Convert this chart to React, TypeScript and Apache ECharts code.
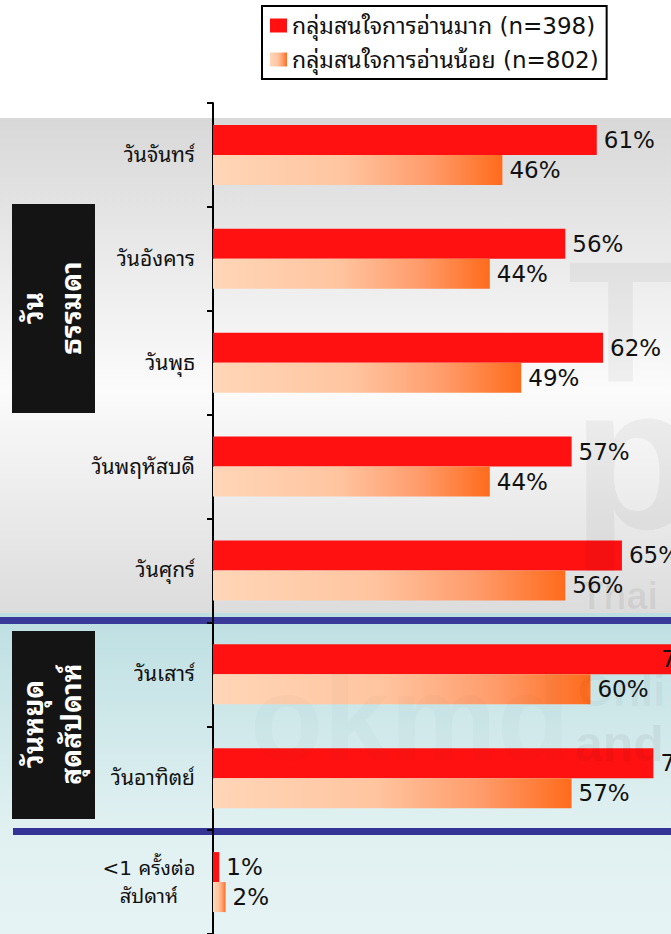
import React, { useEffect, useRef } from "react";
import * as echarts from "echarts";

const categories = [
  "วันจันทร์",
  "วันอังคาร",
  "วันพุธ",
  "วันพฤหัสบดี",
  "วันศุกร์",
  "วันเสาร์",
  "วันอาทิตย์",
  "<1 ครั้งต่อ\nสัปดาห์",
];
const highInterest = [61, 56, 62, 57, 65, 73, 70, 1];
const lowInterest = [46, 44, 49, 44, 56, 60, 57, 2];
const seriesNames = ["กลุ่มสนใจการอ่านมาก (n=398)", "กลุ่มสนใจการอ่านน้อย (n=802)"];
const groupLabels = ["วัน\nธรรมดา", "วันหยุด\nสุดสัปดาห์"];

const FONT = '"DejaVu Sans", "Noto Sans Thai Looped", Tahoma, "Noto Sans Thai", sans-serif';

export default function App() {
  const ref = useRef<HTMLDivElement>(null);

  useEffect(() => {
    document.body.style.margin = "0";
    const chart = echarts.init(ref.current!, null, { renderer: "svg" });

    const lowGradient = {
      type: "linear",
      x: 0,
      y: 0,
      x2: 1,
      y2: 0,
      colorStops: [
        { offset: 0, color: "#ffd6b8" },
        { offset: 0.45, color: "#ffc5a0" },
        { offset: 0.75, color: "#ff9b6a" },
        { offset: 1, color: "#ff6b1c" },
      ],
    };

    const highData = highInterest.map((v, i) =>
      i === 5 ? { value: v, label: { offset: [-18, 0] } } : v
    );

    const wm = (text: string, x: number, y: number, size: number, fill: string) => ({
      type: "text",
      x,
      y,
      z: 50,
      silent: true,
      style: {
        text,
        fill,
        font: `bold ${size}px Arial, "Liberation Sans", sans-serif`,
        textVerticalAlign: "top",
      },
    });

    const valueLabel = {
      show: true,
      position: "right",
      distance: 7,
      formatter: "{c}%",
      fontSize: 23,
      color: "#111",
      fontFamily: FONT,
    };

    const option: any = {
      animation: false,
      textStyle: { fontFamily: FONT },
      legend: {
        left: 262,
        top: 6,
        orient: "vertical",
        data: seriesNames,
        icon: "rect",
        itemWidth: 17,
        itemHeight: 14,
        itemGap: 9,
        padding: [7, 8, 7, 8],
        borderColor: "#000",
        borderWidth: 2,
        backgroundColor: "#fff",
        textStyle: { fontSize: 23, lineHeight: 25, color: "#111", fontFamily: FONT },
      },
      grid: { left: 213, top: 103, right: 0, height: 832, containLabel: false },
      xAxis: { type: "value", min: 0, max: 72.8, show: false },
      yAxis: {
        type: "category",
        inverse: true,
        data: categories,
        axisLine: { show: true, lineStyle: { color: "#000", width: 2 } },
        axisTick: { show: true, length: 6, lineStyle: { color: "#000", width: 2 } },
        axisLabel: {
          margin: 18,
          fontSize: 21,
          color: "#111",
          fontFamily: FONT,
          formatter: (v: string) => {
            if (v.indexOf("\n") >= 0) {
              return v
                .split("\n")
                .map((s) => `{c|${s}}`)
                .join("\n");
            }
            return v;
          },
          rich: {
            c: { width: 92, align: "center", fontSize: 20, lineHeight: 28, color: "#111", fontFamily: FONT },
          },
        },
        splitLine: { show: false },
      },
      series: [
        {
          name: seriesNames[0],
          type: "bar",
          data: highData,
          barWidth: 30,
          barGap: "0%",
          clip: false,
          itemStyle: { color: "#ff1111" },
          label: valueLabel,
        },
        {
          name: seriesNames[1],
          type: "bar",
          data: lowInterest,
          barWidth: 30,
          barGap: "0%",
          clip: false,
          itemStyle: { color: lowGradient },
          label: valueLabel,
        },
      ],
      graphic: [
        {
          type: "rect",
          z: -10,
          silent: true,
          shape: { x: 0, y: 118, width: 671, height: 495 },
          style: {
            fill: {
              type: "linear",
              x: 0,
              y: 0,
              x2: 0,
              y2: 1,
              colorStops: [
                { offset: 0, color: "#d8d8d8" },
                { offset: 0.55, color: "#fbfbfb" },
                { offset: 1, color: "#dcdcdc" },
              ],
            },
          },
        },
        {
          type: "rect",
          z: -10,
          silent: true,
          shape: { x: 0, y: 613, width: 671, height: 321 },
          style: {
            fill: {
              type: "linear",
              x: 0,
              y: 0,
              x2: 0,
              y2: 1,
              colorStops: [
                { offset: 0, color: "#bddfe2" },
                { offset: 0.65, color: "#e0f0f1" },
                { offset: 1, color: "#e6f3f4" },
              ],
            },
          },
        },
        {
          type: "rect",
          z: -5,
          silent: true,
          shape: { x: 0, y: 617, width: 671, height: 7 },
          style: { fill: "#3a3a9a" },
        },
        {
          type: "rect",
          z: -5,
          silent: true,
          shape: { x: 13, y: 828, width: 658, height: 7 },
          style: { fill: "#343497" },
        },
        wm("T", 568, 236, 172, "rgba(0,0,0,0.045)"),
        wm("p", 572, 355, 205, "rgba(0,0,0,0.045)"),
        wm("Thai", 580, 577, 38, "rgba(0,0,0,0.06)"),
        wm("Onli", 578, 668, 45, "rgba(0,0,0,0.05)"),
        wm("and", 575, 719, 50, "rgba(0,0,0,0.05)"),
        wm("okmd", 250, 658, 120, "rgba(0,60,70,0.018)"),
        {
          type: "rect",
          z: 5,
          shape: { x: 12, y: 204, width: 83, height: 209 },
          style: { fill: "#141414" },
        },
        {
          type: "text",
          z: 6,
          x: 52,
          y: 308,
          rotation: Math.PI / 2,
          style: {
            text: groupLabels[0],
            fill: "#fff",
            font: `bold 28px ${FONT}`,
            textAlign: "center",
            textVerticalAlign: "middle",
            lineHeight: 38,
          },
        },
        {
          type: "rect",
          z: 5,
          shape: { x: 12, y: 631, width: 83, height: 188 },
          style: { fill: "#141414" },
        },
        {
          type: "text",
          z: 6,
          x: 52,
          y: 724,
          rotation: Math.PI / 2,
          style: {
            text: groupLabels[1],
            fill: "#fff",
            font: `bold 28px ${FONT}`,
            textAlign: "center",
            textVerticalAlign: "middle",
            lineHeight: 38,
          },
        },
      ],
    };

    chart.setOption(option);
    return () => chart.dispose();
  }, []);

  return <div ref={ref} style={{ width: 671, height: 934 }} />;
}
